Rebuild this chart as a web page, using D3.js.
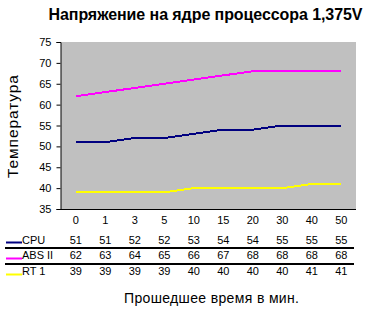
<!DOCTYPE html>
<html><head><meta charset="utf-8">
<script src="https://cdn.jsdelivr.net/npm/d3@7/dist/d3.min.js"></script>
<style>
html,body{margin:0;padding:0;background:#fff;}
svg text{font-family:"Liberation Sans",Arial,sans-serif;fill:#000;}
</style></head>
<body>
<svg id="c" width="372" height="310"></svg>
<script>
const categories = ["0","1","3","5","10","15","20","30","40","50"];
const cpu = [51,51,52,52,53,54,54,55,55,55];
const abs = [62,63,64,65,66,67,68,68,68,68];
const rt  = [39,39,39,39,40,40,40,40,41,41];
const seriesNames = ["CPU","ABS II","RT 1"];
const seriesColors = ["#000080","#FF00FF","#FFFF00"];
const yTicks = [35,40,45,50,55,60,65,70,75];
const title = "Напряжение на ядре процессора 1,375V";
const yTitle = "Температура";
const xTitle = "Прошедшее время в мин.";

const series = [cpu, abs, rt];
const svg = d3.select("#c");
const L = 61, R = 356, T = 42, B = 209;

const x = d3.scaleBand().domain(categories).range([L, R]);
const y = d3.scaleLinear().domain([35, 75]).range([B, T]);

svg.append("rect").attr("x", L).attr("y", T).attr("width", R - L).attr("height", B - T).attr("fill", "#C0C0C0");

// y axis
const ya = svg.append("g").attr("transform", `translate(${L - 0.5},0)`)
  .call(d3.axisLeft(y).tickValues(yTicks).tickSize(4).tickPadding(5));
ya.select(".domain").attr("stroke", "#000");
ya.selectAll("text").style("font-size", "11px").style("font-family", "'Liberation Sans',Arial,sans-serif");
ya.selectAll("line").attr("stroke", "#000");

// bottom axis line
svg.append("line").attr("x1", L - 1).attr("x2", R).attr("y1", B + 0.5).attr("y2", B + 0.5).attr("stroke", "#000");

// lines
const line = d3.line().x((d, i) => x(categories[i]) + x.bandwidth() / 2).y(d => y(d));
series.forEach((s, k) => {
  svg.append("path").datum(s).attr("d", line).attr("fill", "none")
    .attr("stroke", seriesColors[k]).attr("stroke-width", 2).attr("shape-rendering", "crispEdges");
});

// title
svg.append("text").attr("x", 205.5).attr("y", 20).attr("text-anchor", "middle")
  .attr("textLength", 314).attr("lengthAdjust", "spacing")
  .style("font-size", "16px").style("font-weight", "bold").text(title);

// y title
svg.append("text").attr("transform", "translate(18,126.5) rotate(-90)").attr("text-anchor", "middle")
  .attr("textLength", 103).attr("lengthAdjust", "spacing")
  .style("font-size", "15.5px").text(yTitle);

// data table
svg.selectAll(".cat").data(categories).enter().append("text")
  .attr("x", d => x(d) + x.bandwidth() / 2).attr("y", 224).attr("text-anchor", "middle")
  .style("font-size", "11px").text(d => d);

const rowBase = [244, 259, 275];
const swatchY = [242.5, 258.5, 274.5];
series.forEach((s, k) => {
  svg.selectAll(".v" + k).data(s).enter().append("text")
    .attr("x", (d, i) => x(categories[i]) + x.bandwidth() / 2).attr("y", rowBase[k])
    .attr("text-anchor", "middle").style("font-size", "11px").text(d => d);
  svg.append("line").attr("x1", 6).attr("x2", 22).attr("y1", swatchY[k]).attr("y2", swatchY[k])
    .attr("stroke", seriesColors[k]).attr("stroke-width", 2);
  svg.append("text").attr("x", 22).attr("y", rowBase[k]).style("font-size", "11px").text(seriesNames[k]);
});
[248, 264].forEach(yy => {
  svg.append("line").attr("x1", 5).attr("x2", 354).attr("y1", yy).attr("y2", yy)
    .attr("stroke", "#000").attr("stroke-width", 2);
});

// x title
svg.append("text").attr("x", 211.5).attr("y", 303).attr("text-anchor", "middle")
  .attr("textLength", 175).attr("lengthAdjust", "spacing")
  .style("font-size", "14px").text(xTitle);
</script>
</body></html>
